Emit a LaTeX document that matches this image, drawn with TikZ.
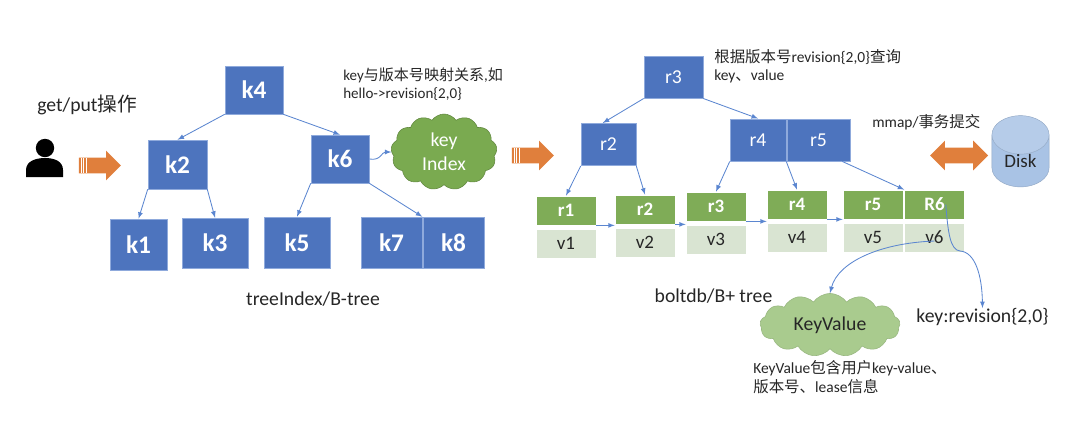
\documentclass[tikz,border=0pt]{standalone}
\usepackage{fontspec}
\setmainfont{Carlito}
\newfontfamily\cjk{Noto Sans CJK SC}
\usetikzlibrary{arrows.meta,shapes.arrows,shapes.geometric,shapes.symbols}
\definecolor{boxblue}{HTML}{4D74BE}
\definecolor{boxedge}{HTML}{8FAADC}
\definecolor{recgreen}{HTML}{7FAC57}
\definecolor{valgreen}{HTML}{D9E4D2}
\definecolor{arrorange}{HTML}{E07F3C}
\definecolor{linkblue}{HTML}{5B86D0}
\definecolor{cloudgreen}{HTML}{7AAA50}
\definecolor{cloudlight}{HTML}{A9CB8E}
\definecolor{diskblue}{HTML}{A9C3E5}

\begin{document}
\begin{tikzpicture}[x=0.25mm, y=-0.25mm,
  box/.style={draw=boxedge, fill=boxblue, text=white, inner sep=0, line width=0.4pt},
  leaf/.style={draw=white, inner sep=0, line width=0.4pt, minimum width=1.5cm, minimum height=0.73cm},
  arr/.style={-latex, linkblue, line width=0.6pt},
  big/.style={fill=arrorange, inner sep=0.1875cm, minimum height=1.05cm, minimum width=0.725cm},
  txt/.style={anchor=west, inner sep=0, align=left, text=black!85, font=\fontsize{10.7}{13}\selectfont},
  lab/.style={inner sep=0, text=black!85, font=\fontsize{14}{16}\selectfont}]
\useasboundingbox (0,0) rectangle (1080,438);

% --- treeIndex ---
\foreach \n/\x/\y/\w/\h in {k4/254/90/58/48, k2/177.5/164.5/59/49, k6/340/159/58/48,
  k1/138.5/244.5/57/51, k3/215/243/66/50, k5/297/242.5/66/51, k7/391.5/242.5/61/51, k8/453.5/242.5/61/51}{
  \node[box, font=\fontsize{18}{20}\selectfont\bfseries, minimum width=\w*0.25mm, minimum height=\h*0.25mm] (\n) at (\x,\y) {\n};
}
\draw[arr] (k4.south west) -- (k2.north);
\draw[arr] (k4.south east) -- (k6.north);
\draw[arr] (k2.south west) -- (k1.north);
\draw[arr] (k2.south east) -- (k3.north);
\draw[arr] (k6.south west) -- (k5.north);
\draw[arr] (k6.south east) -- (k7.north east);

\node[cloud, cloud puffs=13, cloud puff arc=110, aspect=1.4, draw=cloudgreen!80!black, fill=cloudgreen, text=white, align=center,
  inner sep=0, minimum width=2.65cm, minimum height=1.9cm, font=\fontsize{14}{17}\selectfont] (keyIndex) at (444,152) {key\\Index};
\draw[arr] (k6.east) .. controls +(12,2) and +(-10,0) .. (keyIndex.west);

\node[txt] (maplabel) at (343,84) {key{\cjk 与版本号映射关系},{\cjk 如}\\hello->revision\{2,0\}};
\node[lab] (treelabel) at (313,299) {treeIndex/B-tree};

% --- utente ---
\node[lab, anchor=west] (oplabel) at (37,105) {get/put{\cjk 操作}};
\node[circle, fill=black, inner sep=0, minimum size=0.46cm] (head) at (45,148) {};
\fill (26,177) -- (26,170) .. controls (26,161) and (36,158) .. (45,158)
  .. controls (54,158) and (63,161) .. (63,170) -- (63,177) -- cycle;
\node[big, single arrow, single arrow head extend=0.175cm] (inarrow) at (96,165.5) {};
\node[big, single arrow, single arrow head extend=0.175cm] (midarrow) at (529,155.5) {};
\foreach \x in {81,83.5,86}{
  \draw[white, line width=0.4pt] (\x,158) -- (\x,173);
  \draw[white, line width=0.4pt] (\x+433,148) -- (\x+433,163);
}

% --- boltdb ---
\foreach \n/\x/\y/\w in {r3/673.5/77/59, r2/608.5/144.5/55, r4/758/140/56, r5/818.5/140/63}{
  \node[box, font=\fontsize{14}{16}\selectfont, minimum width=\w*0.25mm, minimum height=1.06cm] (\n) at (\x,\y) {\n};
}
\foreach \n/\t/\x/\y in {1/r1/566/210.5, 2/r2/645/209.5, 3/r3/716/206.5, 4/r4/797/204.5, 5/r5/873/204.5, 6/R6/934.5/204.5}{
  \node[leaf, fill=recgreen, text=white, font=\fontsize{13.5}{16}\selectfont\bfseries] (rec\n) at (\x,\y) {\t};
  \node[leaf, fill=valgreen, text=black!85, font=\fontsize{13.5}{16}\selectfont] (val\n) at (\x,\y+33) {v\n};
}
\draw[arr] (r3.south west) -- (r2.105);
\draw[arr] (r3.south east) -- (r4.north);
\draw[arr] (r2.south west) -- (rec1.north);
\draw[arr] (r2.south east) -- (rec2.north);
\draw[arr] (r4.south west) -- (rec3.north);
\draw[arr] (r4.south east) -- (rec4.north);
\draw[arr] (r5.-42) -- (rec6.north west);
\foreach \a/\b in {1/2,2/3,3/4,4/5}{
  \draw[arr] (rec\a.south east) -- (rec\a.south east -| rec\b.west);
}

\node[txt, font=\fontsize{11}{13}\selectfont] (querylabel) at (714,66) {{\cjk 根据版本号}revision\{2,0\}{\cjk 查询}\\key{\cjk 、}value};
\node[lab] (boltlabel) at (713.5,296) {boltdb/B+ tree};
\node[lab] (revlabel) at (982.5,317) {key:revision\{2,0\}};
\node[cloud, cloud puffs=13, cloud puff arc=110, aspect=2.2, draw=cloudlight!90!black, fill=cloudlight, text=black!85, inner sep=0,
  minimum width=3.5cm, minimum height=1.58cm, font=\fontsize{14}{17}\selectfont] (kvcloud) at (830,325) {KeyValue};
\node[txt, font=\fontsize{11}{13.5}\selectfont] (kvlabel) at (753,377.5) {KeyValue{\cjk 包含用户}key-value{\cjk 、}\\{\cjk 版本号、}lease{\cjk 信息}};
\draw[arr] ([yshift=-2.5pt]val6.center) .. controls (880,243) and (838,262) .. (kvcloud.north);
\draw[arr] ([xshift=8pt]rec6.center) .. controls (948,232) and (950,250) .. (960,251)
  .. controls (975,252) and (982,275) .. (revlabel.north);

% --- disco ---
\node[lab, anchor=west, font=\fontsize{11}{13}\selectfont] (mmaplabel) at (872,122) {mmap/{\cjk 事务提交}};
\node[big, double arrow, double arrow head extend=0.175cm, minimum height=1.45cm] (diskarrow) at (959,155.5) {};
\node[cylinder, shape border rotate=90, aspect=1.2, cylinder uses custom fill, cylinder body fill=diskblue, cylinder end fill=diskblue!85!white,
  draw=diskblue!85!black, line width=0.3pt, inner sep=0, minimum width=1.43cm, minimum height=1.4cm,
  text=black!85, font=\fontsize{13.5}{16}\selectfont] (disk) at (1020.5,161) {Disk};
\end{tikzpicture}
\end{document}
